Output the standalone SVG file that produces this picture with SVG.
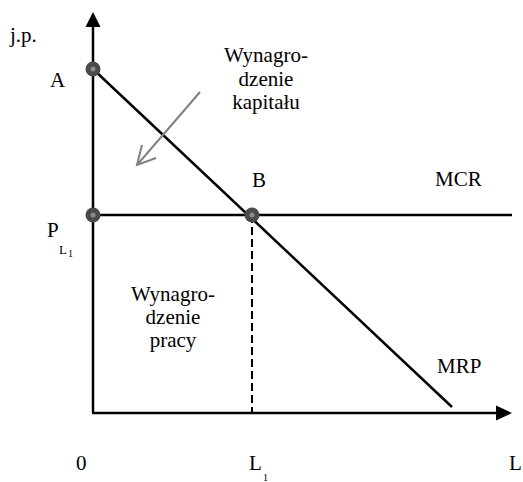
<svg xmlns="http://www.w3.org/2000/svg" width="523" height="482" viewBox="0 0 523 482">
<style>
  .t { font-family: 'Liberation Serif', 'DejaVu Serif', serif; font-size: 21px; fill: #000; }
  .ax { stroke: #000; stroke-width: 2.5; fill: none; }
  .ln { stroke: #000; stroke-width: 2.5; fill: none; }
  .dash { stroke: #000; stroke-width: 2; stroke-dasharray: 8 4; fill: none; }
  .gray { stroke: #808080; stroke-width: 2; fill: none; }
  .pt { fill: #4a4a4a; }
  .ptc { fill: #8a8a8a; }
  .sub { font-size: 13px; }
  .sub2 { font-size: 10px; }
</style>
<rect width="523" height="482" fill="#fff"/>
<g id="connectors">
  <line class="ax" x1="93" y1="413" x2="93" y2="26"/>
  <polygon points="93,12 85.5,27 100.5,27" fill="#000"/>
  <line class="ax" x1="92" y1="413" x2="497" y2="413"/>
  <polygon points="512,413 496,405.5 496,420.5" fill="#000"/>
  <line id="MRP-line" class="ln" x1="93" y1="69" x2="452" y2="407"/>
  <line id="MCR-line" class="ln" x1="93" y1="215" x2="512" y2="215"/>
  <line class="dash" x1="252" y1="215" x2="252" y2="413"/>
  <line class="gray" x1="200" y1="92" x2="137" y2="165"/>
  <polyline class="gray" points="142,145 137,165 156,158"/>
</g>
<g id="A">
  <circle class="pt" cx="93" cy="69" r="7.5"/>
  <circle class="ptc" cx="93" cy="69" r="2.5"/>
  <text class="t" x="50" y="87" font-family="Liberation Serif, serif">A</text>
</g>
<g id="P">
  <circle class="pt" cx="93" cy="215" r="7.5"/>
  <circle class="ptc" cx="93" cy="215" r="2.5"/>
  <text class="t" x="47" y="237" font-family="Liberation Serif, serif">P</text>
  <text class="t sub" x="59" y="254" font-family="Liberation Serif, serif">L</text>
  <text class="t sub2" x="68" y="257" font-family="Liberation Serif, serif">1</text>
</g>
<g id="B">
  <circle class="pt" cx="252" cy="215" r="7.5"/>
  <circle class="ptc" cx="252" cy="215" r="2.5"/>
  <text class="t" x="252" y="187" font-family="Liberation Serif, serif">B</text>
</g>
<g id="labels" font-family="Liberation Serif, serif">
  <text class="t" x="10" y="42">j.p.</text>
  <text class="t" x="266" y="62" text-anchor="middle">Wynagro-</text>
  <text class="t" x="266" y="86" text-anchor="middle">dzenie</text>
  <text class="t" x="266" y="109" text-anchor="middle">kapitału</text>
  <text class="t" x="173" y="301" text-anchor="middle">Wynagro-</text>
  <text class="t" x="173" y="324" text-anchor="middle">dzenie</text>
  <text class="t" x="173" y="347" text-anchor="middle">pracy</text>
  <text class="t" x="435" y="186">MCR</text>
  <text class="t" x="437" y="373">MRP</text>
  <text class="t" x="76" y="470">0</text>
  <text class="t" x="249" y="470">L</text>
  <text class="t sub2" x="263" y="481">1</text>
  <text class="t" x="509" y="470">L</text>
</g>
</svg>
